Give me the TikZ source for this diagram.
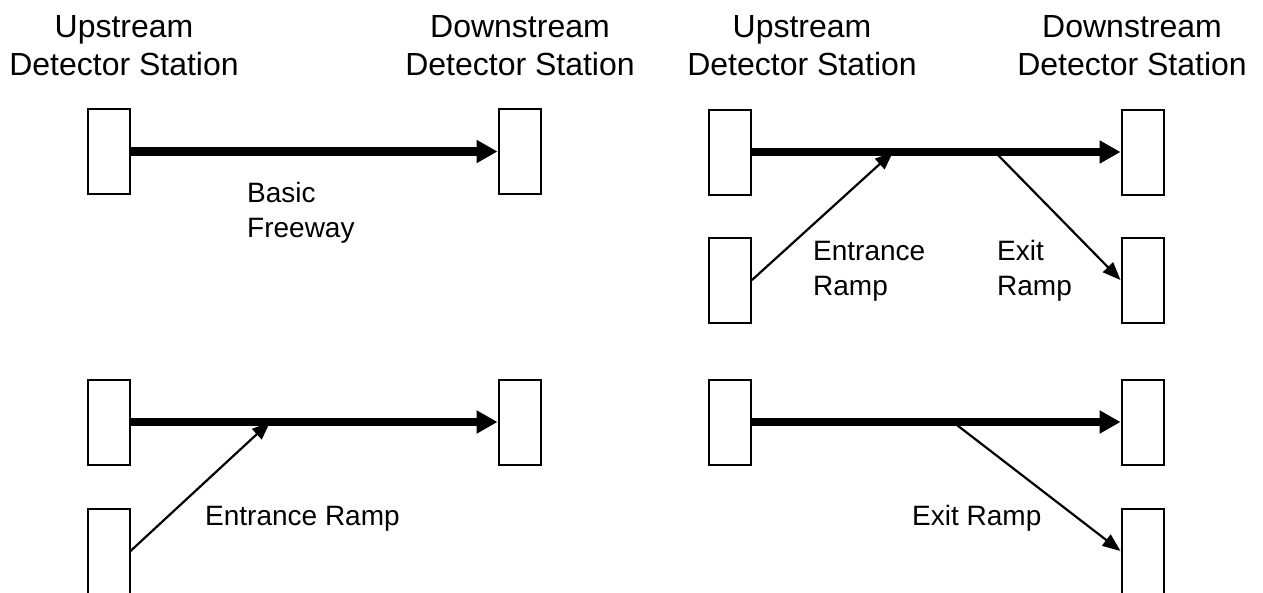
\documentclass[tikz,border=0pt]{standalone}
\usepackage{fontspec}
\setmainfont{Liberation Sans}
\usetikzlibrary{arrows.meta}

\tikzset{
  station/.style={draw, line width=2pt, rectangle, inner sep=0pt,
    minimum width=42pt, minimum height=85pt},
  header/.style={align=center, inner sep=0pt, anchor=base,
    font=\fontsize{32}{38}\selectfont},
  label/.style={align=left, inner sep=0pt, anchor=base west,
    font=\fontsize{28}{35}\selectfont},
  freeway/.style={line width=8.5pt, -{Triangle[length=21pt,width=22pt]}},
  ramp/.style={line width=2.2pt, -{Triangle[length=18pt,width=14pt]}}
}

\begin{document}
\begin{tikzpicture}[x=1pt, y=-1pt]
  \useasboundingbox (0,0) rectangle (1263,592);
  \clip (0,0) rectangle (1263,592);

  % column headings (anchored on the baseline of their last line)
  \node[header] (h1) at (124,75)  {Upstream\\Detector Station};
  \node[header] (h2) at (520,75)  {Downstream\\Detector Station};
  \node[header] (h3) at (802,75)  {Upstream\\Detector Station};
  \node[header] (h4) at (1132,75) {Downstream\\Detector Station};

  % basic freeway segment
  \node[station] (U1) at (108.5,151.5) {};
  \node[station] (D1) at (519.5,151.5) {};
  \draw[freeway] (U1.east) -- (D1.west);
  \node[label] (l1) at (247,237) {Basic\\Freeway};

  % segment with entrance and exit ramps
  \node[station] (U2) at (730,152) {};
  \node[station] (R2) at (730,280) {};
  \node[station] (D2) at (1142.5,152) {};
  \node[station] (X2) at (1142.5,280) {};
  \coordinate (m2) at (893,152);
  \coordinate (e2) at (995,152);
  \draw[freeway] (U2.east) -- (D2.west);
  \draw[ramp] (R2.east) -- (m2);
  \draw[ramp] (e2) -- (X2.west);
  \node[label] (l2) at (813,295) {Entrance\\Ramp};
  \node[label] (l3) at (997,295) {Exit\\Ramp};

  % segment with entrance ramp
  \node[station] (U3) at (108.5,422) {};
  \node[station] (R3) at (108.5,551) {};
  \node[station] (D3) at (519.5,422) {};
  \coordinate (m3) at (270,422);
  \draw[freeway] (U3.east) -- (D3.west);
  \draw[ramp] (R3.east) -- (m3);
  \node[label] (l4) at (205,525) {Entrance Ramp};

  % segment with exit ramp
  \node[station] (U4) at (730,422) {};
  \node[station] (D4) at (1142.5,422) {};
  \node[station] (X4) at (1142.5,551) {};
  \coordinate (e4) at (953,422);
  \draw[freeway] (U4.east) -- (D4.west);
  \draw[ramp] (e4) -- (X4.west);
  \node[label] (l5) at (912,525) {Exit Ramp};
\end{tikzpicture}
\end{document}
